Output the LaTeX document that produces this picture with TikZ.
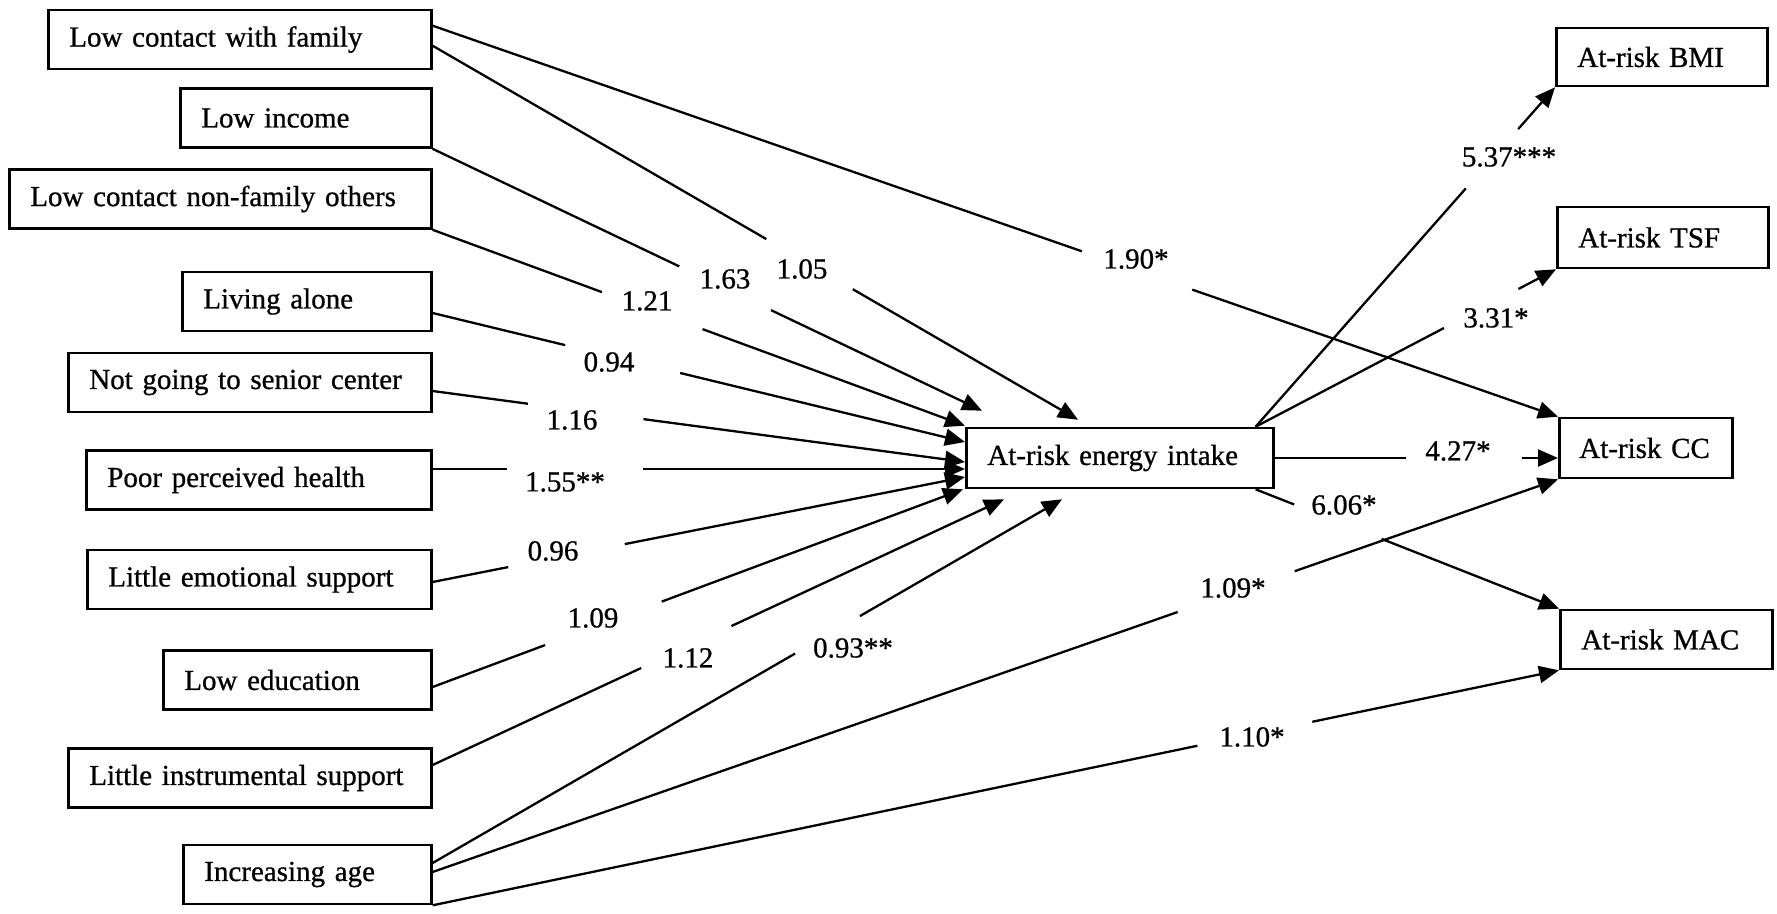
\documentclass[tikz,border=0pt]{standalone}
\usepackage{fontspec}
\setmainfont{Liberation Serif}[FakeBold=0.8]
\usetikzlibrary{arrows.meta,calc}
% a connector broken by a gap where its label sits
\newcommand\splitlink[4]{%
  \draw[link] (#1) -- ($(#1)!#3!(#2)$);
  \draw[arr] ($(#1)!#4!(#2)$) -- (#2);}
\begin{document}
\begin{tikzpicture}[x=1pt,y=-1pt,
  font=\fontsize{29}{33}\selectfont,
  box/.style={draw, line width=2.6pt, inner xsep=21pt, inner ysep=0pt,
    minimum height=59pt, align=left, anchor=west},
  link/.style={line width=2.3pt},
  arr/.style={link, -{Triangle[length=20pt,width=17pt]}},
  lab/.style={inner sep=0pt}]
\useasboundingbox (0,0) rectangle (1777,913);

% predictors
\node[box, text width=341pt] (A) at (47,39.5)  {Low contact with family};
\node[box, text width=209pt] (B) at (179,118)  {Low income};
\node[box, text width=380pt] (C) at (8,199)    {Low contact non-family others};
\node[box, text width=207pt] (D) at (181,301.5){Living alone};
\node[box, text width=321pt] (E) at (67,382.5) {Not going to senior center};
\node[box, text width=303pt] (F) at (85,480)   {Poor perceived health};
\node[box, text width=302pt] (G) at (86,579.5) {Little emotional support};
\node[box, text width=226pt] (H) at (162,680)  {Low education};
\node[box, text width=321pt] (I) at (67,778)   {Little instrumental support};
\node[box, text width=206pt] (J) at (182,874.5){Increasing age};

% mediator
\node[box, text width=265pt, minimum height=60pt] (K) at (965,458) {At-risk energy intake};

% outcomes
\node[box, text width=169pt, minimum height=58pt] (BMI) at (1555,57)    {At-risk BMI};
\node[box, text width=169pt, minimum height=61pt] (TSF) at (1556,237.5) {At-risk TSF};
\node[box, text width=133pt, inner xsep=20pt, minimum height=60pt] (CC) at (1558,448) {At-risk CC};
\node[box, text width=170pt] (MAC) at (1559,639.5) {At-risk MAC};

% connector ends
\coordinate (s1)  at ($(A.north east)+(0,17)$);
\coordinate (t1)  at (CC.north west);
\coordinate (s2)  at ($(A.north east)+(0,37)$);
\coordinate (t2)  at ($(K.north west)+(113,-7)$);
\coordinate (s3)  at (B.south east);
\coordinate (t3)  at ($(K.north west)+(17,-16)$);
\coordinate (s4)  at (C.south east);
\coordinate (t4)  at ($(K.north west)+(0,-1)$);
\coordinate (s5)  at ($(D.east)+(0,11.5)$);
\coordinate (t5)  at ($(K.west)+(0,-16)$);
\coordinate (s6)  at ($(E.east)+(0,8.5)$);
\coordinate (t6)  at ($(K.west)+(0,4)$);
\coordinate (s7)  at ($(F.east)+(0,-11)$);
\coordinate (t7)  at ($(K.west)+(0,11)$);
\coordinate (s8)  at ($(G.east)+(0,2.5)$);
\coordinate (t8)  at ($(K.west)+(0,19)$);
\coordinate (s9)  at ($(H.east)+(0,7)$);
\coordinate (t9)  at ($(K.south west)+(-2,0)$);
\coordinate (s10) at ($(I.east)+(0,-13)$);
\coordinate (t10) at ($(K.south west)+(39,10)$);
\coordinate (s11) at ($(J.east)+(0,-11.5)$);
\coordinate (t11) at ($(K.south west)+(97,10)$);
\coordinate (s12) at ($(J.east)+(0,-2.5)$);
\coordinate (t12) at (CC.south west);
\coordinate (s13) at (J.south east);
\coordinate (t13) at (MAC.south west);
\coordinate (s14) at ($(K.north east)+(-19,0)$);
\coordinate (t14) at (BMI.south west);
\coordinate (t15) at (TSF.south west);
\coordinate (s16) at (K.east);
\coordinate (t16) at (K.east -| CC.west);
\coordinate (s17) at ($(K.south east)+(-19,0)$);
\coordinate (t17) at (MAC.north west);

% paths into the mediator
\splitlink{s2}{t2}{0.517}{0.651}
\splitlink{s3}{t3}{0.449}{0.616}
\splitlink{s4}{t4}{0.318}{0.507}
\splitlink{s5}{t5}{0.249}{0.465}
\splitlink{s6}{t6}{0.179}{0.396}
\splitlink{s7}{t7}{0.140}{0.396}
\splitlink{s8}{t8}{0.142}{0.361}
\splitlink{s9}{t9}{0.212}{0.432}
\splitlink{s10}{t10}{0.365}{0.523}
\splitlink{s11}{t11}{0.576}{0.679}

% direct paths to outcomes
\splitlink{s1}{t1}{0.577}{0.675}
\splitlink{s12}{t12}{0.662}{0.766}
\splitlink{s13}{t13}{0.679}{0.781}

% mediator to outcomes
\splitlink{s14}{t14}{0.702}{0.877}
\splitlink{s14}{t15}{0.627}{0.875}
\splitlink{s16}{t16}{0.462}{0.874}
\splitlink{s17}{t17}{0.127}{0.415}

% coefficients
\node[lab] (l1)  at (1136,259) {1.90*};
\node[lab] (l2)  at (802,269)  {1.05};
\node[lab] (l3)  at (725,279)  {1.63};
\node[lab] (l4)  at (647,301)  {1.21};
\node[lab] (l5)  at (609,362)  {0.94};
\node[lab] (l6)  at (572,420)  {1.16};
\node[lab] (l7)  at (565,482)  {1.55**};
\node[lab] (l8)  at (553,551)  {0.96};
\node[lab] (l9)  at (593,618)  {1.09};
\node[lab] (l10) at (688,658)  {1.12};
\node[lab] (l11) at (853,648)  {0.93**};
\node[lab] (l12) at (1233,588) {1.09*};
\node[lab] (l13) at (1252,737) {1.10*};
\node[lab] (l14) at (1509,157) {5.37***};
\node[lab] (l15) at (1496,318) {3.31*};
\node[lab] (l16) at (1458,451) {4.27*};
\node[lab] (l17) at (1344,505) {6.06*};
\end{tikzpicture}
\end{document}
